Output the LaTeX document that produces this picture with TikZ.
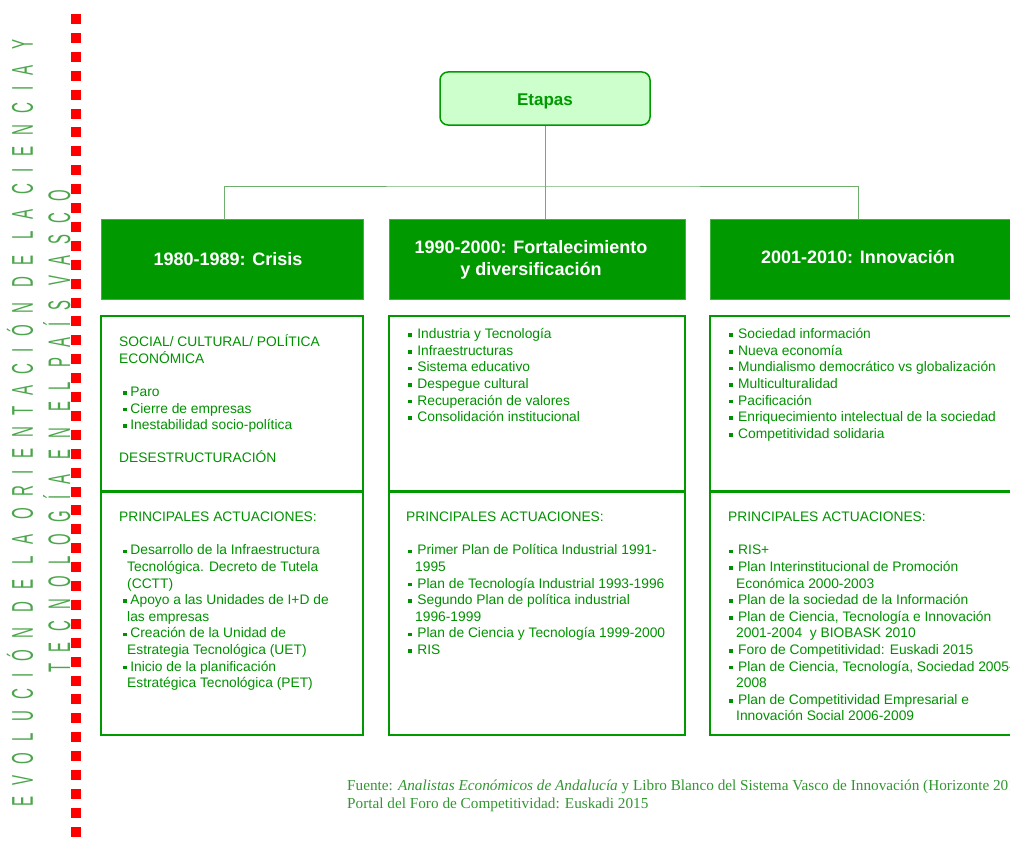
\documentclass[tikz,border=0pt]{standalone}
\usepackage{fontspec}
\setmainfont{Liberation Sans}
\newfontfamily\seriffont{Liberation Serif}
\newfontfamily\titlefont[LetterSpace=75]{Liberation Sans}
\definecolor{hdr}{RGB}{0,153,0}
\definecolor{txt}{RGB}{0,145,0}
\definecolor{bord}{RGB}{0,153,0}
\definecolor{conncol}{RGB}{110,175,110}
\definecolor{lite}{RGB}{204,255,204}
\definecolor{ttl}{RGB}{75,165,75}
\definecolor{foot}{RGB}{50,150,50}
\newlength\bulshift
\newlength\bulgap
\newlength\contind
\newcommand\bi{\hspace*{\bulshift}\rule[1.8pt]{3.6pt}{3.6pt}\hspace*{\bulgap}}
\newcommand\ci{\hspace*{\contind}}
\newcommand\tp{\rule{0pt}{12pt}}
\begin{document}
\begin{tikzpicture}[x=1pt,y=-1pt,
  hdrbox/.style={fill=hdr, draw=hdr!75!white, line width=0.6pt, inner sep=0pt},
  hdrtext/.style={text=white, inner sep=0pt, align=center, font=\fontsize{18}{22}\selectfont\bfseries},
  cbox/.style={draw=bord, line width=1.3pt, inner sep=0pt},
  ctext/.style={anchor=north west, inner sep=0pt, align=left, text=txt, font=\fontsize{13.8}{16.6}\selectfont},
  conn/.style={draw=conncol, line width=1pt},
  ttlstyle/.style={text=ttl, inner sep=0pt, anchor=base west, rotate=90, font=\titlefont\fontsize{28}{30}\selectfont},
  etap/.style={draw=hdr, line width=1.5pt, fill=lite, rounded corners=8pt, inner sep=0pt, minimum width=210pt, minimum height=53pt, text=hdr, font=\fontsize{17}{20}\selectfont\bfseries}
]
\useasboundingbox (0,0) rectangle (1010,843);
\clip (0,0) rectangle (1010,843);

% vertical title
\node[ttlstyle] (title1) at (33,807) {\resizebox{767pt}{26pt}{EVOLUCIÓN DE LA ORIENTACIÓN DE LA CIENCIA Y}};
\node[ttlstyle] (title2) at (70,673) {\resizebox{483pt}{27pt}{TECNOLOGÍA EN EL PAÍS VASCO}};

% red dotted line
\foreach \i in {0,...,43} \fill[red] (71,{14+\i*18.9}) rectangle ++(10,10);

% top node
\node[etap] (etapas) at (545,98.5) {\raisebox{-7.5pt}[0pt][0pt]{Etapas}};

% header boxes
\node[hdrbox, minimum width=262pt, minimum height=80pt] (h1) at (232,259.5) {};
\node[hdrbox, minimum width=296pt, minimum height=80pt] (h2) at (537,259.5) {};
\node[hdrbox, minimum width=320pt, minimum height=80pt] (h3) at (870,259.5) {};
\node[hdrtext] (h1t) at (228,259) {1980-1989: Crisis};
\node[hdrtext] (h2t) at (531,260) {1990-2000: Fortalecimiento\\y diversificación};
\node[hdrtext] (h3t) at (858,257) {2001-2010: Innovación};

% connectors
\coordinate (bus) at (545,186);
\coordinate (t1) at (224,220);
\coordinate (t3) at (858,220);
\draw[conn] (etapas.south) -- (etapas.south |- h2.north);
\draw[conn] (t1) |- (bus) -| (t3);

% content boxes
\node[cbox, minimum width=262pt, minimum height=175pt] (u1) at (232,403.5) {};
\node[cbox, minimum width=262pt, minimum height=244pt] (l1) at (232,613) {};
\node[cbox, minimum width=296pt, minimum height=175pt] (u2) at (537,403.5) {};
\node[cbox, minimum width=296pt, minimum height=244pt] (l2) at (537,613) {};
\node[cbox, minimum width=320pt, minimum height=175pt] (u3) at (870,403.5) {};
\node[cbox, minimum width=320pt, minimum height=244pt] (l3) at (870,613) {};
\draw[bord, line width=2pt] (u1.south west) -- (u1.south east);
\draw[bord, line width=2pt] (u2.south west) -- (u2.south east);
\draw[bord, line width=2pt] (u3.south west) -- (u3.south east);

% box 1 texts
\node[ctext, font=\fontsize{13.8}{16.6}\selectfont\setlength\bulshift{4pt}\setlength\bulgap{3.6pt}\setlength\contind{8pt}] (u1t) at (119,{346.5-12}) {\tp SOCIAL/ CULTURAL/ POLÍTICA\\
ECONÓMICA\\[16.6pt]
\bi Paro\\
\bi Cierre de empresas\\
\bi Inestabilidad socio-política\\[16.6pt]
DESESTRUCTURACIÓN};
\node[ctext, font=\fontsize{13.8}{16.6}\selectfont\setlength\bulshift{4pt}\setlength\bulgap{3.6pt}\setlength\contind{8pt}] (l1t) at (119,{521.5-12}) {\tp PRINCIPALES ACTUACIONES:\\[16.6pt]
\bi Desarrollo de la Infraestructura\\
\ci Tecnológica. Decreto de Tutela\\
\ci (CCTT)\\
\bi Apoyo a las Unidades de I+D de\\
\ci las empresas\\
\bi Creación de la Unidad de\\
\ci Estrategia Tecnológica (UET)\\
\bi Inicio de la planificación\\
\ci Estratégica Tecnológica (PET)};

% box 2 texts
\node[ctext, font=\fontsize{13.8}{16.6}\selectfont\setlength\bulshift{0pt}\setlength\bulgap{5.6pt}\setlength\contind{7pt}] (u2t) at (408,{338.5-12}) {\tp\bi Industria y Tecnología\\
\bi Infraestructuras\\
\bi Sistema educativo\\
\bi Despegue cultural\\
\bi Recuperación de valores\\
\bi Consolidación institucional};
\node[ctext, font=\fontsize{13.8}{16.6}\selectfont\setlength\bulshift{2pt}\setlength\bulgap{5.6pt}\setlength\contind{9pt}] (l2t) at (406,{521.5-12}) {\tp PRINCIPALES ACTUACIONES:\\[16.6pt]
\bi Primer Plan de Política Industrial 1991-\\
\ci 1995\\
\bi Plan de Tecnología Industrial 1993-1996\\
\bi Segundo Plan de política industrial\\
\ci 1996-1999\\
\bi Plan de Ciencia y Tecnología 1999-2000\\
\bi RIS};

% box 3 texts
\node[ctext, font=\fontsize{13.8}{16.6}\selectfont\setlength\bulshift{0pt}\setlength\bulgap{5.4pt}\setlength\contind{6.5pt}] (u3t) at (729,{338.5-12}) {\tp\bi Sociedad información\\
\bi Nueva economía\\
\bi Mundialismo democrático vs globalización\\
\bi Multiculturalidad\\
\bi Pacificación\\
\bi Enriquecimiento intelectual de la sociedad\\
\bi Competitividad solidaria};
\node[ctext, font=\fontsize{13.8}{16.6}\selectfont\setlength\bulshift{1pt}\setlength\bulgap{5.4pt}\setlength\contind{8pt}] (l3t) at (728,{521.5-12}) {\tp PRINCIPALES ACTUACIONES:\\[16.6pt]
\bi RIS+\\
\bi Plan Interinstitucional de Promoción\\
\ci Económica 2000-2003\\
\bi Plan de la sociedad de la Información\\
\bi Plan de Ciencia, Tecnología e Innovación\\
\ci 2001-2004~ y BIOBASK 2010\\
\bi Foro de Competitividad: Euskadi 2015\\
\bi Plan de Ciencia, Tecnología, Sociedad 2005-\\
\ci 2008\\
\bi Plan de Competitividad Empresarial e\\
\ci Innovación Social 2006-2009};

% footer
\node[anchor=base west, inner sep=0pt, text=foot, font=\seriffont\fontsize{15.25}{18}\selectfont] (f1) at (347,790) {Fuente: \textit{Analistas Económicos de Andalucía} y Libro Blanco del Sistema Vasco de Innovación (Horizonte 2010)};
\node[anchor=base west, inner sep=0pt, text=foot, font=\seriffont\fontsize{15.25}{18}\selectfont] (f2) at (347,808) {Portal del Foro de Competitividad: Euskadi 2015};
\end{tikzpicture}
\end{document}
